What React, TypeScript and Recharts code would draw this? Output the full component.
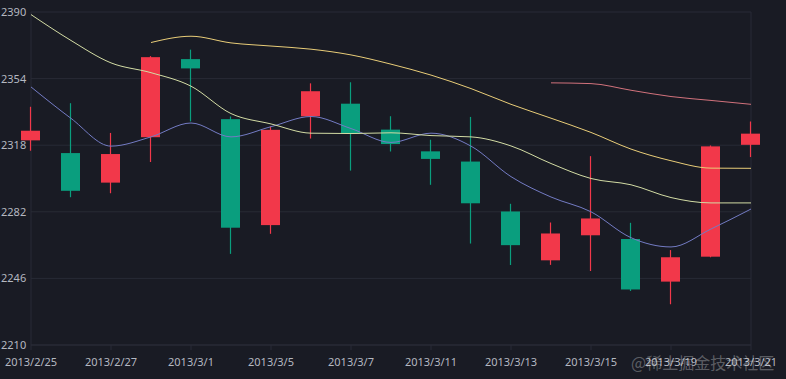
import React from 'react'
import {
  ComposedChart,
  Bar,
  Line,
  XAxis,
  YAxis,
  CartesianGrid,
} from 'recharts'

const dates = [
  '2013/2/25', '2013/2/26', '2013/2/27', '2013/2/28', '2013/3/1', '2013/3/4', '2013/3/5',
  '2013/3/6', '2013/3/7', '2013/3/8', '2013/3/11', '2013/3/12', '2013/3/13', '2013/3/14',
  '2013/3/15', '2013/3/18', '2013/3/19', '2013/3/20', '2013/3/21',
]
const opens = [
  2320.62, 2313.74, 2297.77, 2322.32, 2364.54, 2332.08, 2274.81, 2333.61, 2340.44, 2326.42,
  2314.68, 2309.16, 2282.17, 2255.77, 2269.31, 2267.29, 2244.26, 2257.74, 2318.21,
]
const closes = [
  2325.82, 2293.34, 2313.22, 2365.59, 2359.51, 2273.4, 2326.31, 2347.18, 2324.29, 2318.61,
  2310.59, 2286.6, 2263.97, 2270.28, 2278.4, 2240.02, 2257.43, 2317.37, 2324.24,
]
const lows = [
  2315.01, 2289.89, 2292.03, 2308.92, 2330.86, 2259.25, 2270.1, 2321.6, 2304.27, 2314.59,
  2296.58, 2264.83, 2253.25, 2253.31, 2250, 2239.21, 2232.02, 2257.42, 2311.6,
]
const highs = [
  2338.78, 2340.71, 2324.63, 2366.16, 2369.65, 2333.54, 2328.14, 2351.44, 2352.02, 2333.67,
  2320.96, 2333.29, 2286.33, 2276.22, 2312.08, 2276.05, 2261.31, 2317.86, 2330.81,
]
const ma5 = [
  2349.5, 2332.5, 2317.5, 2322.5, 2330, 2322.5, 2328, 2333.5, 2327, 2319.5,
  2324.5, 2317.5, 2301, 2290, 2282, 2268, 2263, 2272.7, 2283.5,
]
const ma10 = [
  2388.6, 2374.6, 2362.5, 2357.2, 2349.9, 2335.1, 2329.5, 2324.5, 2324.3, 2324.7,
  2323.2, 2322.5, 2317.6, 2308.1, 2300, 2296.6, 2289.7, 2286.8, 2286.8,
]
const ma20 = [
  null, null, null, 2373.5, 2376.9, 2373.3, 2371.6, 2369.9, 2366.8, 2361.8,
  2355.9, 2348.6, 2340.1, 2332.6, 2324.9, 2315.9, 2309.6, 2305.6, 2305.5,
]
const ma30 = [
  null, null, null, null, null, null, null, null, null, null,
  null, null, null, 2351.7, 2351.3, 2347.7, 2344.3, 2342.2, 2340.1,
]
const yTicks = [2210, 2246, 2282, 2318, 2354, 2390]
const xTicks = [0, 2, 4, 6, 8, 10, 12, 14, 16, 18]

const BG = '#191b24'
const GRID = '#282b36'
const LABEL = '#b4b8c1'
const UP = '#f2384a'
const DOWN = '#0a9e7e'

const data = dates.map((date, i) => ({
  idx: i,
  date,
  open: opens[i],
  close: closes[i],
  low: lows[i],
  high: highs[i],
  ma5: ma5[i],
  ma10: ma10[i],
  ma20: ma20[i],
  ma30: ma30[i],
}))

// range bar low..high, open/close placed inside it by ratio
function Candle(props: any) {
  const { x, y, width, height, payload } = props
  if (payload == null || height == null) return null
  const { open, close, low, high } = payload
  const span = high - low || 1
  const py = (v: number) => y + ((high - v) / span) * height
  const up = close >= open
  const color = up ? UP : DOWN
  const cx = x + width / 2
  const top = py(Math.max(open, close))
  const bottom = py(Math.min(open, close))
  return (
    <g>
      <line x1={cx} x2={cx} y1={y} y2={y + height} stroke={color} strokeWidth={1.2} />
      <rect x={x} y={top} width={width} height={Math.max(bottom - top, 1)} fill={color} />
    </g>
  )
}

function YTick(props: any) {
  const { y, payload } = props
  return (
    <text x={1} y={y} dy={4} fill={LABEL} fontSize={11} textAnchor="start">
      {payload.value}
    </text>
  )
}

export default function App() {
  return (
    <div
      style={{
        position: 'fixed',
        left: 0,
        top: 0,
        width: 786,
        height: 379,
        background: BG,
        fontFamily: '"Noto Sans", sans-serif',
        overflow: 'hidden',
      }}
    >
      <ComposedChart
        width={786}
        height={379}
        data={data}
        margin={{ top: 12, right: 35, bottom: 0, left: 0 }}
      >
        <CartesianGrid
          stroke={GRID}
          verticalCoordinatesGenerator={({ offset }: any) => [offset.left, offset.left + offset.width]}
        />
        <XAxis
          dataKey="idx"
          type="number"
          domain={[0, 18]}
          ticks={xTicks}
          tickFormatter={(v: number) => dates[v]}
          height={34}
          stroke={GRID}
          tick={{ fill: LABEL, fontSize: 11 }}
          tickSize={5}
          tickMargin={8}
          interval={0}
        />
        <YAxis
          domain={[2210, 2390]}
          ticks={yTicks}
          width={31}
          axisLine={false}
          tickLine={false}
          tick={<YTick />}
          allowDataOverflow
        />
        <Bar
          dataKey={(d: any) => [d.low, d.high]}
          barSize={19}
          shape={<Candle />}
          isAnimationActive={false}
        />
        <Line type="monotone" dataKey="ma5" stroke="#737bc4" strokeWidth={1} dot={false} isAnimationActive={false} />
        <Line type="monotone" dataKey="ma10" stroke="#d3dca4" strokeWidth={1} dot={false} isAnimationActive={false} />
        <Line type="monotone" dataKey="ma20" stroke="#e9cd78" strokeWidth={1} dot={false} isAnimationActive={false} />
        <Line type="monotone" dataKey="ma30" stroke="#d2727c" strokeWidth={1} dot={false} isAnimationActive={false} />
      </ComposedChart>
      <span
        style={{
          position: 'absolute',
          left: 631,
          top: 351,
          fontSize: 16,
          lineHeight: '22px',
          color: 'rgba(255,255,255,0.3)',
          fontFamily: '"Noto Sans CJK SC", sans-serif',
          whiteSpace: 'nowrap',
        }}
      >
        @稀土掘金技术社区
      </span>
    </div>
  )
}
